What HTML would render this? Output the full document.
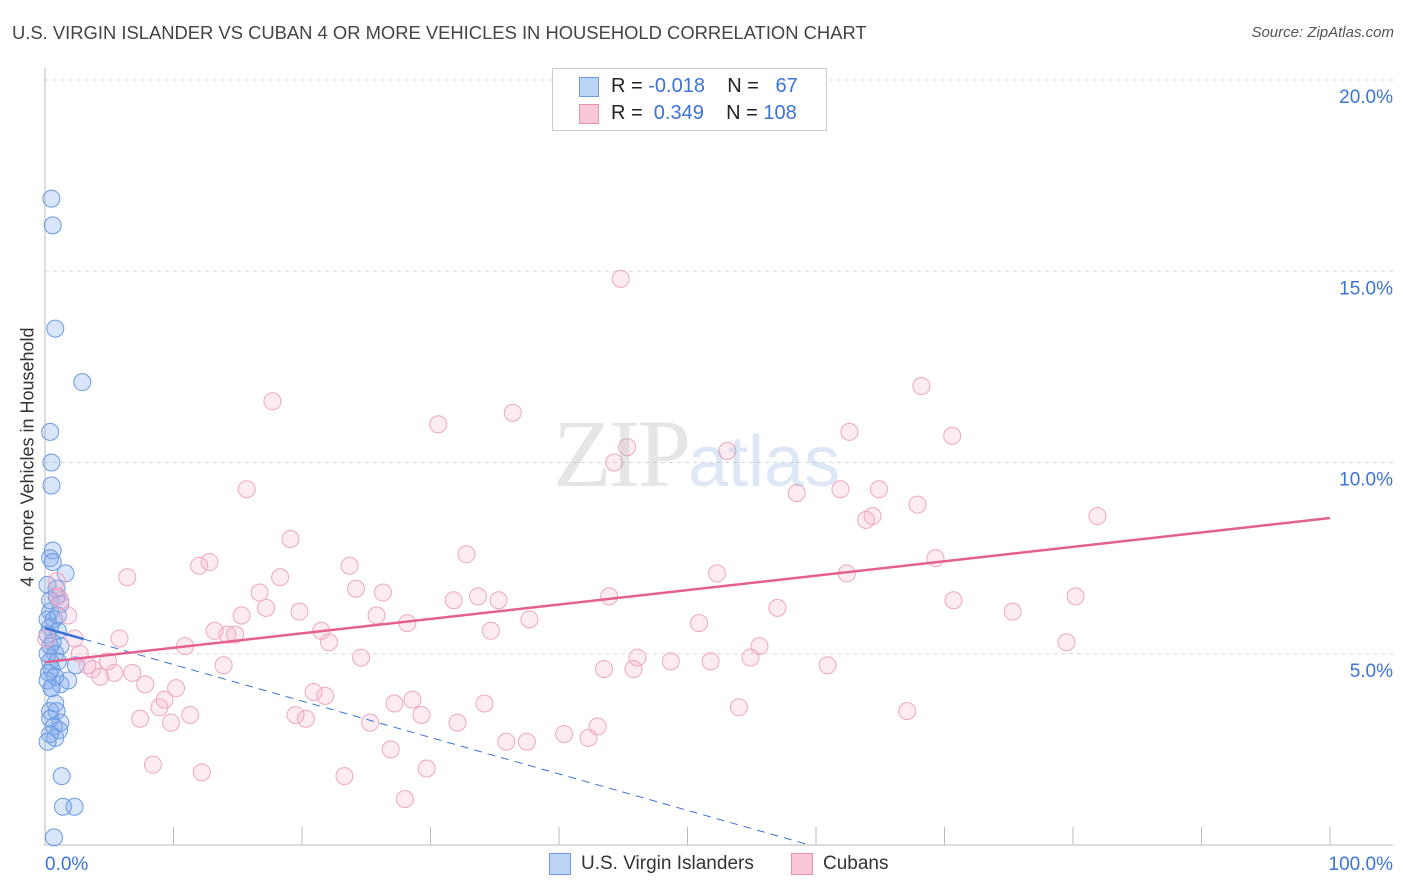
<!DOCTYPE html>
<html><head><meta charset="utf-8"><style>
body{margin:0;background:#fff;font-family:"Liberation Sans",sans-serif}
#wrap{position:relative;width:1406px;height:892px;overflow:hidden}
.t{position:absolute;white-space:nowrap}
</style></head><body>
<div id="wrap">
<div class="t" style="left:12px;top:22px;font-size:18.4px;color:#444">U.S. VIRGIN ISLANDER VS CUBAN 4 OR MORE VEHICLES IN HOUSEHOLD CORRELATION CHART</div>
<div class="t" style="right:12px;top:24px;font-size:15px;color:#555;font-style:italic">Source: ZipAtlas.com</div>
<div class="t" style="left:28px;top:457px;font-size:18px;color:#333;transform:translate(-50%,-50%) rotate(-90deg)">4 or more Vehicles in Household</div>
<svg id="svg" width="1406" height="892" style="position:absolute;left:0;top:0"></svg>
<div style="position:absolute;left:552px;top:68px;width:273px;height:61px;border:1px solid #ccc;background:#fff;font-size:20px;color:#222">
 <div style="position:absolute;left:26px;top:8px;width:18px;height:18px;background:#bcd4f6;border:1px solid #6b9be0"></div>
 <div class="t" style="left:58px;top:6px">R = <span style="color:#3b73d6">-0.018</span>&nbsp;&nbsp;&nbsp; N = &nbsp;&nbsp;<span style="color:#3b73d6">67</span></div>
 <div style="position:absolute;left:26px;top:35px;width:18px;height:18px;background:#f9c8d6;border:1px solid #e890b0"></div>
 <div class="t" style="left:58px;top:33px">R = &nbsp;<span style="color:#3b73d6">0.349</span>&nbsp;&nbsp;&nbsp; N = <span style="color:#3b73d6">108</span></div>
</div>
<div class="t" style="left:553px;top:398px;font-size:96px;font-family:'Liberation Serif',serif;color:rgba(180,180,180,0.35);letter-spacing:-3px">ZIP<span style="font-family:'Liberation Sans',sans-serif;font-size:72px;color:rgba(120,160,220,0.25);letter-spacing:0">atlas</span></div>
<div style="position:absolute;left:549px;top:853px;width:20px;height:20px;background:#bcd4f6;border:1px solid #6b9be0"></div>
<div class="t" style="left:581px;top:853px;font-size:19px;color:#333">U.S. Virgin Islanders</div>
<div style="position:absolute;left:791px;top:853px;width:20px;height:20px;background:#f9c8d6;border:1px solid #e890b0"></div>
<div class="t" style="left:823px;top:853px;font-size:19px;color:#333">Cubans</div>
</div>
<script>
const blueX=[0.5,0.6,0.8,2.9,0.4,0.5,0.5,0.6,0.4,0.6,1.6,0.2,0.9,0.9,1.2,0.4,0.7,0.4,1.0,0.2,0.6,0.4,1.2,0.2,0.8,0.4,1.0,2.4,0.5,0.3,0.8,0.2,1.2,1.8,0.5,0.8,0.4,0.9,0.4,1.2,0.7,1.1,0.4,0.8,0.2,1.3,1.4,2.3,0.7,0.4,0.2,0.5,1.0];
const blueY=[16.9,16.2,13.5,12.1,10.8,10.0,9.4,7.7,7.5,7.4,7.1,6.8,6.7,6.5,6.3,6.1,5.9,5.7,5.6,5.5,5.3,5.2,5.2,5.0,5.0,4.8,4.8,4.7,4.6,4.5,4.4,4.3,4.2,4.3,4.1,3.7,3.5,3.5,3.3,3.2,3.1,3.0,2.9,2.8,2.7,1.8,1.0,1.0,0.2,6.4,5.9,4.1,6.0];
const pinkX=[44.8,68.2,17.7,36.4,30.6,62.6,45.3,70.6,53.1,44.3,15.7,64.9,58.5,61.9,67.9,64.4,63.9,81.9,19.1,32.8,12.8,12.0,69.3,6.4,23.7,62.4,52.3,18.3,0.9,1.0,16.7,24.2,26.3,33.7,31.8,35.3,43.9,80.2,70.7,17.2,15.3,19.8,1.8,25.8,57.0,75.3,37.7,28.2,50.9,21.5,34.7,13.2,14.2,14.8,2.3,5.8,22.1,10.9,79.5,55.6,2.7,24.6,54.9,46.1,4.9,48.7,51.8,13.9,45.8,43.5,60.9,3.3,3.7,4.3,6.8,5.4,7.8,10.2,20.9,21.8,9.3,8.9,28.6,27.2,34.2,54.0,29.3,11.3,67.1,7.4,9.8,19.5,20.3,32.1,25.3,43.0,35.9,37.5,40.4,42.3,26.9,8.4,12.2,29.7,23.3,28.0,0.1,1.2];
const pinkY=[14.8,12.0,11.6,11.3,11.0,10.8,10.4,10.7,10.3,10.0,9.3,9.3,9.2,9.3,8.9,8.6,8.5,8.6,8.0,7.6,7.4,7.3,7.5,7.0,7.3,7.1,7.1,7.0,6.9,6.5,6.6,6.7,6.6,6.5,6.4,6.4,6.5,6.5,6.4,6.2,6.0,6.1,6.0,6.0,6.2,6.1,5.9,5.8,5.8,5.6,5.6,5.6,5.5,5.5,5.4,5.4,5.3,5.2,5.3,5.2,5.0,4.9,4.9,4.9,4.8,4.8,4.8,4.7,4.6,4.6,4.7,4.7,4.6,4.4,4.5,4.5,4.2,4.1,4.0,3.9,3.8,3.6,3.8,3.7,3.7,3.6,3.4,3.4,3.5,3.3,3.2,3.4,3.3,3.2,3.2,3.1,2.7,2.7,2.9,2.8,2.5,2.1,1.9,2.0,1.8,1.2,5.4,6.4];
const pinkTrend=[4.78,0.0377];   // intercept, slope
const blueTrend=[5.67,-0.0953];
const yTicks=[5,10,15,20];
const yTickLabels=["5.0%","10.0%","15.0%","20.0%"];
const xTicks=[0,10,20,30,40,50,60,70,80,90,100];

const NS="http://www.w3.org/2000/svg",svg=document.getElementById('svg');
const X0=45,XS=12.85,Y0=845,YS=38.25;
const sx=v=>X0+v*XS, sy=v=>Y0-v*YS;
function mk(tag,at){const e=document.createElementNS(NS,tag);for(const k in at)e.setAttribute(k,at[k]);svg.appendChild(e);return e;}
yTicks.forEach((t,i)=>{
 const g=mk('line',{x1:X0,x2:1393,y1:sy(t),y2:sy(t),stroke:'#d8d8d8','stroke-dasharray':'4,4'});
 
 
 const tx=mk('text',{x:1393,y:sy(t)+23,'text-anchor':'end','font-size':19,fill:'#3b73d6','font-family':'Liberation Sans, sans-serif'});
 tx.textContent=yTickLabels[i];
 
 
});
const ax=mk('line',{x1:X0,x2:X0,y1:68,y2:Y0,stroke:'#bbb'});


const bx=mk('line',{x1:X0,x2:1393,y1:Y0,y2:Y0,stroke:'#bbb'});


xTicks.forEach(t=>{
 const l=mk('line',{x1:sx(t),x2:sx(t),y1:827,y2:Y0,stroke:'#bbb'});
 
 
});
const xl0=mk('text',{x:X0,y:870,'font-size':19,fill:'#3b73d6','font-family':'Liberation Sans, sans-serif'});xl0.textContent='0.0%';


const xl1=mk('text',{x:1393,y:870,'text-anchor':'end','font-size':19,fill:'#3b73d6','font-family':'Liberation Sans, sans-serif'});xl1.textContent='100.0%';


blueX.forEach((v,i)=>{
 const c=mk('circle',{cx:sx(v),cy:sy(blueY[i]),r:8.5,fill:'rgba(130,170,235,0.3)',stroke:'#6b9be3','stroke-width':1});
 
 
});
pinkX.forEach((v,i)=>{
 const c=mk('circle',{cx:sx(v),cy:sy(pinkY[i]),r:8.5,fill:'rgba(245,175,200,0.25)',stroke:'#efa7c1','stroke-width':1});
 
 
});
const bz=-blueTrend[0]/blueTrend[1];
const b1=mk('line',{x1:sx(0),y1:sy(blueTrend[0]),x2:sx(3),y2:sy(blueTrend[0]+3*blueTrend[1]),stroke:'#3b73d6','stroke-width':2.5});


const b2=mk('line',{x1:sx(3),y1:sy(blueTrend[0]+3*blueTrend[1]),x2:sx(bz),y2:sy(0),stroke:'#3b73d6','stroke-width':1,'stroke-dasharray':'8,6'});


const p=mk('line',{x1:sx(0),y1:sy(pinkTrend[0]),x2:sx(100),y2:sy(pinkTrend[0]+100*pinkTrend[1]),stroke:'#e4608e','stroke-width':2.5});


</script>
</body></html>
